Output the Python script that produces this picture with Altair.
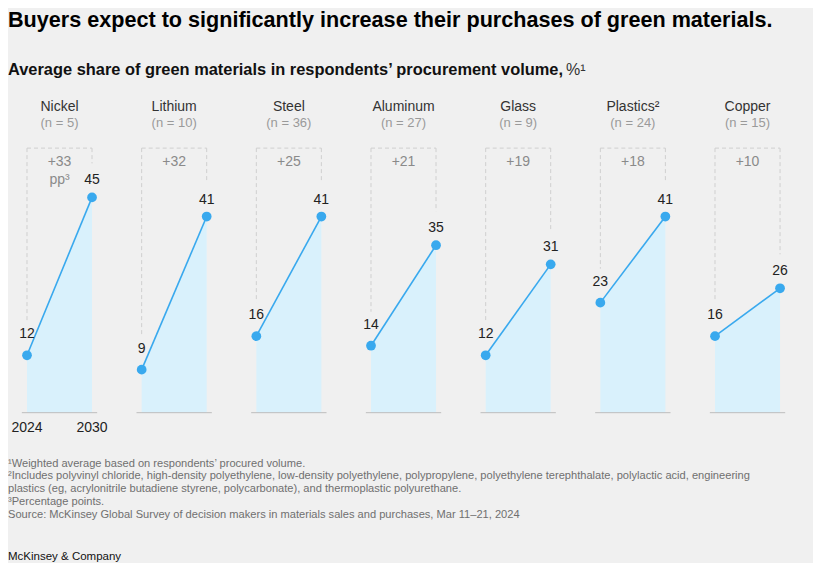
import altair as alt
import pandas as pd

# ---------------- data ----------------
materials = ["Nickel", "Lithium", "Steel", "Aluminum", "Glass", "Plastics²", "Copper"]
sample_n = [5, 10, 36, 27, 9, 24, 15]
share_2024 = [12, 9, 16, 14, 12, 23, 16]
share_2030 = [45, 41, 41, 35, 31, 41, 26]
years = [2024, 2030]

title_text = "Buyers expect to significantly increase their purchases of green materials."
subtitle_text = "Average share of green materials in respondents’ procurement volume,"
subtitle_unit = "%¹"
footnotes = [
    "¹Weighted average based on respondents’ procured volume.",
    "²Includes polyvinyl chloride, high-density polyethylene, low-density polyethylene, polypropylene, polyethylene terephthalate, polylactic acid, engineering",
    "\u00a0plastics (eg, acrylonitrile butadiene styrene, polycarbonate), and thermoplastic polyurethane.",
    "³Percentage points.",
    "\u00a0Source: McKinsey Global Survey of decision makers in materials sales and purchases, Mar 11–21, 2024",
]
brand = "McKinsey & Company"

# ---------------- layout helpers ----------------
W = 0.567          # panel width (in panel-slot units) between 2024 and 2030
EXT = 0.045        # baseline rule overhang
BRACKET_TOP = 55.3 # height of dashed bracket (value units)
GAP = 7.1          # dashed lines stop this far above the dots

FONT = "Liberation Sans"
BLUE = "#39a9ee"
FILL = "#d9f1fc"

rows = []
for i, m in enumerate(materials):
    for y, v in zip(years, [share_2024[i], share_2030[i]]):
        rows.append({"material": m, "year": y, "value": v,
                     "pos": i + (y - years[0]) / (years[1] - years[0]) * W})
pts = pd.DataFrame(rows)

panels = pd.DataFrame({
    "material": materials,
    "n_label": [f"(n = {n})" for n in sample_n],
    "left": [i for i in range(len(materials))],
    "right": [i + W for i in range(len(materials))],
    "mid": [i + W / 2 for i in range(len(materials))],
    "v0": share_2024,
    "v1": share_2030,
    "delta": [f"+{b - a}" for a, b in zip(share_2024, share_2030)],
})
panels["rule_l"] = panels["left"] - EXT
panels["rule_r"] = panels["right"] + EXT
panels["top"] = BRACKET_TOP
panels["l_end"] = panels["v0"] + GAP
panels["r_end"] = panels["v1"] + GAP
panels["zero"] = 0

xs = alt.Scale(domain=[-0.1657, 6.8545], nice=False, zero=False)
ys = alt.Scale(domain=[-30.37, 84.58], nice=False, zero=False)
X = lambda f: alt.X(f, type="quantitative", scale=xs, axis=None)
Y = lambda f: alt.Y(f, type="quantitative", scale=ys, axis=None)

base_p = alt.Chart(panels)
base_d = alt.Chart(pts)

baseline = base_p.mark_rule(color="#bdbdbd", strokeWidth=1).encode(
    x=X("rule_l"), x2="rule_r", y=Y("zero"))

dash = dict(color="#cfcfcf", strokeWidth=1, strokeDash=[4, 3])
top_rule = base_p.mark_rule(**dash).encode(x=X("left"), x2="right", y=Y("top"))
left_rule = base_p.mark_rule(**dash).encode(x=X("left"), y=Y("top"), y2="l_end")
right_rule = base_p.mark_rule(**dash).encode(x=X("right"), y=Y("top"), y2="r_end")

area = base_d.mark_area(color=FILL, opacity=1).encode(
    x=X("pos"), y=Y("value"), y2=alt.datum(0), detail="material:N")
line = base_d.mark_line(color=BLUE, strokeWidth=1.6).encode(
    x=X("pos"), y=Y("value"), detail="material:N")
dots = base_d.mark_circle(color=BLUE, size=95, opacity=1).encode(
    x=X("pos"), y=Y("value"))

lab0 = base_d.transform_filter(alt.datum.year == years[0]).mark_text(
    font=FONT, fontSize=14, color="#222", dy=-21, baseline="middle").encode(
    x=X("pos"), y=Y("value"), text="value:Q")
lab1 = base_d.transform_filter(alt.datum.year == years[1]).mark_text(
    font=FONT, fontSize=14, color="#222", dy=-17, baseline="middle").encode(
    x=X("pos"), y=Y("value"), text="value:Q")

delta = base_p.mark_text(font=FONT, fontSize=14, color="#8a8a8a", baseline="middle").encode(
    x=X("mid"), y=alt.value(154), text="delta:N")
pp = base_p.transform_filter(alt.datum.material == materials[0]).mark_text(
    font=FONT, fontSize=14, color="#8a8a8a", baseline="middle", text="pp³").encode(
    x=X("mid"), y=alt.value(172))

head = base_p.mark_text(font=FONT, fontSize=14, color="#333", baseline="middle").encode(
    x=X("mid"), y=alt.value(99), text="material:N")
nlab = base_p.mark_text(font=FONT, fontSize=13, color="#9a9a9a", baseline="middle").encode(
    x=X("mid"), y=alt.value(115), text="n_label:N")

yr = base_d.transform_filter(alt.datum.material == materials[0]).mark_text(
    font=FONT, fontSize=14, color="#222", baseline="middle").encode(
    x=X("pos"), y=alt.value(420), text="year:N")

txt = pd.DataFrame({"t": [title_text]})
title = alt.Chart(txt).mark_text(font=FONT, fontSize=21.6, fontWeight="bold", color="#000",
                                 align="left", baseline="alphabetic").encode(
    x=alt.value(0), y=alt.value(18.5), text="t:N")
sub = alt.Chart(pd.DataFrame({"t": [subtitle_text]})).mark_text(
    font=FONT, fontSize=16.4, fontWeight="bold", color="#111", align="left",
    baseline="alphabetic").encode(x=alt.value(0), y=alt.value(67), text="t:N")
sub_unit = alt.Chart(pd.DataFrame({"t": [subtitle_unit]})).mark_text(
    font=FONT, fontSize=16, color="#333", align="left",
    baseline="alphabetic").encode(x=alt.value(558), y=alt.value(67), text="t:N")

fn = pd.DataFrame({"t": footnotes, "k": list(range(len(footnotes)))})
foot = alt.Chart(fn).mark_text(font=FONT, fontSize=11.1, color="#6f6f6f", align="left",
                               baseline="alphabetic").encode(
    x=alt.value(0),
    y=alt.Y("k:Q", scale=alt.Scale(domain=[0, 4], range=[458.5, 509.5]), axis=None),
    text="t:N")
brand_t = alt.Chart(pd.DataFrame({"t": [brand]})).mark_text(
    font=FONT, fontSize=11.5, color="#111", align="left", baseline="alphabetic").encode(
    x=alt.value(0), y=alt.value(552), text="t:N")

chart = alt.layer(
    area, baseline, top_rule, left_rule, right_rule, line, dots, lab0, lab1,
    delta, pp, head, nlab, yr, title, sub, sub_unit, foot, brand_t
).resolve_scale(y="independent").properties(
    width=805, height=550, padding=0, background="#f0f0f0"
).configure_view(stroke=None)

chart.save("out.html", embed_options={"renderer": "svg", "actions": False})
